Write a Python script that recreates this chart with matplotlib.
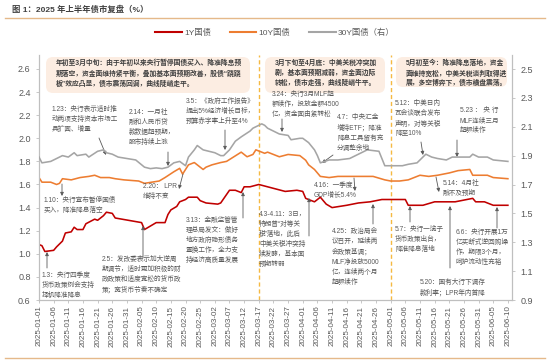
import numpy as np
import pandas as pd
import matplotlib.pyplot as plt
from matplotlib.lines import Line2D
from matplotlib.patches import FancyBboxPatch
from matplotlib.transforms import IdentityTransform

plt.rcParams['font.family'] = ['Liberation Sans', 'Noto Sans CJK SC']

# 1Y 国债 (left axis)
y1_dates = ['01-01', '01-02', '01-03', '01-06', '01-07', '01-09', '01-10', '01-12', '01-13',
            '01-14', '01-16', '01-17', '01-20', '01-21', '01-23', '01-24', '01-26', '01-27',
            '02-05', '02-06', '02-08', '02-10', '02-13', '02-14', '02-15', '02-17', '02-18',
            '02-20', '02-21', '02-24', '02-25', '02-27', '03-03', '03-04', '03-07', '03-09',
            '03-11', '03-12', '03-14', '03-17', '03-20', '03-23', '03-26', '03-30', '04-01',
            '04-02', '04-05', '04-07', '04-09', '04-11', '04-16', '04-20', '04-24', '04-28',
            '05-01', '05-06', '05-07', '05-12', '05-16', '05-23', '05-29', '05-30', '06-02',
            '06-05', '06-10']
y1_vals = [1.08, 1.07, 1.02, 1.03, 1.06, 1.11, 1.18, 1.19, 1.23,
           1.21, 1.21, 1.26, 1.30, 1.29, 1.33, 1.36, 1.35, 1.31,
           1.27, 1.21, 1.24, 1.27, 1.27, 1.34, 1.38, 1.41, 1.45,
           1.47, 1.49, 1.49, 1.46, 1.44, 1.43, 1.44, 1.55, 1.55,
           1.53, 1.58, 1.58, 1.60, 1.58, 1.56, 1.54, 1.55, 1.54,
           1.48, 1.45, 1.49, 1.43, 1.40, 1.42, 1.44, 1.45, 1.47,
           1.47, 1.47, 1.42, 1.42, 1.45, 1.45, 1.48, 1.45, 1.45,
           1.42, 1.42]

# 10Y 国债 (left axis)
y10_dates = ['01-01', '01-02', '01-05', '01-07', '01-08', '01-09', '01-12', '01-15', '01-18',
             '01-20', '01-22', '01-25', '01-27', '01-30', '02-04', '02-06', '02-11', '02-13',
             '02-16', '02-18', '02-19', '02-21', '02-23', '02-24', '02-26', '02-27', '03-01',
             '03-04', '03-06', '03-11', '03-13', '03-15', '03-16', '03-19', '03-20', '03-22',
             '03-24', '03-27', '03-31', '04-02', '04-03', '04-05', '04-07', '04-10', '04-13',
             '04-17', '04-20', '04-25', '04-29', '05-01', '05-04', '05-07', '05-11', '05-14',
             '05-17', '05-21', '05-24', '05-28', '05-29', '06-03', '06-05', '06-10']
y10_vals = [1.66, 1.62, 1.62, 1.60, 1.61, 1.65, 1.64, 1.66, 1.67,
            1.68, 1.66, 1.66, 1.65, 1.64, 1.63, 1.61, 1.63, 1.66,
            1.71, 1.74, 1.69, 1.77, 1.79, 1.77, 1.73, 1.75, 1.77,
            1.79, 1.80, 1.88, 1.84, 1.86, 1.90, 1.87, 1.88, 1.86,
            1.84, 1.86, 1.85, 1.81, 1.77, 1.73, 1.67, 1.66, 1.67,
            1.67, 1.67, 1.67, 1.64, 1.63, 1.63, 1.64, 1.68, 1.67,
            1.68, 1.70, 1.72, 1.73, 1.68, 1.68, 1.66, 1.65]

# 30Y 国债 (right axis)
y30_dates = ['01-01', '01-02', '01-05', '01-07', '01-09', '01-11', '01-13', '01-14', '01-17',
             '01-18', '01-21', '01-23', '01-24', '01-26', '01-28', '02-03', '02-06', '02-08',
             '02-10', '02-12', '02-14', '02-16', '02-18', '02-20', '02-21', '02-23', '02-24',
             '02-26', '03-02', '03-04', '03-05', '03-07', '03-09', '03-11', '03-14', '03-15',
             '03-16', '03-18', '03-19', '03-20', '03-22', '03-24', '03-27', '03-28', '03-31',
             '04-01', '04-03', '04-05', '04-06', '04-07', '04-10', '04-13', '04-17', '04-22',
             '04-23', '04-27', '04-28', '04-29', '05-01', '05-05', '05-07', '05-10', '05-11',
             '05-13', '05-15', '05-17', '05-20', '05-22', '05-24', '05-28', '05-29', '05-31',
             '06-03', '06-05', '06-10']
y30_vals = [1.89, 1.85, 1.86, 1.88, 1.90, 1.89, 1.92, 1.90, 1.91,
            1.89, 1.93, 1.94, 1.92, 1.91, 1.89, 1.87, 1.82, 1.81,
            1.815, 1.81, 1.82, 1.85, 1.86, 1.83, 1.89, 1.94, 1.97,
            1.94, 1.92, 1.90, 1.90, 1.94, 2.00, 2.03, 2.07, 2.09,
            2.10, 2.12, 2.11, 2.09, 2.07, 2.05, 2.04, 2.01, 2.02,
            2.02, 1.99, 1.94, 1.90, 1.85, 1.87, 1.87, 1.88, 1.93,
            1.94, 1.93, 1.88, 1.83, 1.83, 1.83, 1.84, 1.85, 1.87,
            1.91, 1.89, 1.88, 1.87, 1.89, 1.89, 1.89, 1.91, 1.89,
            1.89, 1.87, 1.86]

series_names = ['1Y国债', '10Y国债', '30Y国债（右）']
series_colors = ['#C00000', '#ED7D31', '#A5A5A5']
phase_dates = ['2025-03-17', '2025-05-01']

W, H = 553, 362
TXT = '#595959'


def to_dt(days):
    return pd.to_datetime(['2025-' + d for d in days])


def fx(x):
    return x / W


def fy(y):
    return 1 - y / H


fig = plt.figure(figsize=(W / 100, H / 100), dpi=100)
ax = fig.add_axes([fx(39), fy(300), fx(512) - fx(39), fy(55) - fy(300)])
ax2 = ax.twinx()

ax.plot(to_dt(y1_dates), y1_vals, color=series_colors[0], lw=1.15, zorder=3)
ax.plot(to_dt(y10_dates), y10_vals, color=series_colors[1], lw=1.15, zorder=3)
ax2.plot(to_dt(y30_dates), y30_vals, color=series_colors[2], lw=1.15, zorder=3)

start = pd.Timestamp('2025-01-01')
ax.set_xlim(start, start + pd.Timedelta(days=161.4))
ax.set_ylim(0.6, 2.721)
ax2.set_ylim(0.9, 2.597)
ax.set_yticks(np.arange(0.6, 2.61, 0.2))
ax2.set_yticks(np.arange(0.9, 2.51, 0.2))
ax.set_yticklabels([f'{v:.1f}' for v in np.arange(0.6, 2.61, 0.2)])
ax2.set_yticklabels([f'{v:.1f}' for v in np.arange(0.9, 2.51, 0.2)])

xt = pd.date_range('2025-01-01', '2025-06-10', freq='5D')
ax.set_xticks(xt)
ax.set_xticklabels([d.strftime('%Y-%m-%d') for d in xt], rotation=90)

for a in (ax, ax2):
    for s in a.spines.values():
        s.set_color('#BFBFBF')
        s.set_linewidth(0.8)
    a.spines['top'].set_visible(False)
    a.tick_params(colors='#BFBFBF', labelcolor=TXT, labelsize=6.5, length=2.5, width=0.6)
ax.tick_params(axis='x', labelsize=5.8, pad=1.5)

for d in phase_dates:
    ax.axvline(pd.Timestamp(d), color='#F5B942', lw=1.0, ls=(0, (3, 2)), zorder=2)

# title and frame lines
fig.text(fx(12), fy(10), '图 1：2025 年上半年债市复盘（%）', fontsize=6, fontweight='bold',
         color='#404040', va='center')
fig.add_artist(Line2D([fx(5), fx(545)], [fy(18), fy(18)], color='#E5B98A', lw=1.0))
fig.add_artist(Line2D([fx(5), fx(545)], [fy(358), fy(358)], color='#E5B98A', lw=1.0))

handles = [Line2D([], [], color=c, lw=1.5) for c in series_colors]
fig.legend(handles, series_names, loc='center', bbox_to_anchor=(fx(275), fy(33)), ncol=3,
           frameon=False, fontsize=6, handlelength=3.2, columnspacing=2.2, handletextpad=0.3,
           labelcolor=TXT)

# phase boxes
boxes = [
    (46, 57, 204, 36, '年初至3月中旬：由于年初以来央行暂停国债买入、降准降息预\n'
                      '期落空，资金面维持紧平衡，叠加基本面预期改善，股债“跷跷\n'
                      '板”效应凸显，债市震荡回调，曲线陡峭走平。'),
    (265, 57, 120, 36, '3月下旬至4月底：中美关税冲突加\n剧，基本面预期减弱，资金面边际\n转松，债市走强，曲线陡峭牛平。'),
    (396, 57, 111, 30, '5月初至今：降准降息落地，资金\n面维持宽松，中美关税谈判取得进\n展，多空博弈下，债市横盘震荡。'),
]
for bx, by, bw, bh, txt in boxes:
    p = FancyBboxPatch((bx, H - by - bh), bw, bh, boxstyle='round,pad=0,rounding_size=7',
                       transform=IdentityTransform(), facecolor='#FCEDE2', edgecolor='none',
                       zorder=1)
    fig.add_artist(p)
    fig.text(fx(bx + 10), fy(by + 3), txt, fontsize=4.9, fontweight='bold', color='#404040',
             va='top', linespacing=1.55)

# event notes: (x, y_top, text)
notes = [
    (52, 106, '1.23：央行表示适时推\n动两项支持资本市场工\n具扩面、增量'),
    (129, 109, '2.14：一月社\n融和人民币贷\n款数据超预期，\n股市持续上涨'),
    (186, 98, '3.5：《政府工作报告》\n提出5%经济增长目标，\n预算赤字率上升至4%'),
    (272, 91, '3.24：央行3月MLF超\n额续作，投放金额4500\n亿，资金面由紧转松'),
    (337, 114, '4.7：中央汇金\n增持ETF；降准\n降息工具留有充\n分调整余地'),
    (395, 100, '5.12：中美日内\n瓦会谈联合发布\n声明，对等关税\n降至10%'),
    (460, 107, '5.23 ： 央 行\nMLF连续三月\n超额续作'),
    (44, 197, '1.10：央行宣布暂停国债\n买入，降准降息落空'),
    (143, 183, '2.20： LPR\n维持不变'),
    (42, 272, '1.3：央行四季度\n货币政策例会支持\n择机降准降息'),
    (102, 256, '2.5：发改委表示加大逆周\n期调节，适时更加积极的财\n政政策和适度宽松的货币政\n策；宽货币节奏不确定'),
    (186, 217, '3.13：金融监管管\n理总局发文：做好\n地方政府隐形债务\n置换工作，全力支\n持经济高质量发展'),
    (259, 211, '4.3-4.11：3日，\n特朗普“对等关\n税”落地，此后\n中美关税冲突持\n续发酵，基本面\n预期转弱'),
    (314, 182, '4.16：一季度\nGDP增长5.4%'),
    (332, 228, '4.25：政治局会\n议召开，延续两\n会政策基调；\nMLF净投放5000\n亿，连续两个月\n超额续作'),
    (395, 226, '5.7：央行一揽子\n货币政策出台，\n降准降息落地'),
    (443, 180, '5.14：4月社\n融不及预期'),
    (420, 279, '5.20：国有大行下调存\n款利率；LPR年内首降'),
    (456, 229, '6.6：央行开展1万\n亿买断式逆回购操\n作，期限3个月，\n呵护流动性充裕'),
]
for nx, ny, txt in notes:
    fig.text(fx(nx), fy(ny), txt, fontsize=4.8, color=TXT, va='top', linespacing=1.6)

# arrows: (x_from, y_from, x_to, y_to) in pixels, head at the "to" end
arrows = [
    (99, 138, 106, 155), (168, 152, 168, 166), (225, 130, 225, 150), (282, 119, 282, 132),
    (333, 155, 322, 163), (421, 142, 423, 155), (457, 140, 457, 157), (62, 184, 62, 196),
    (183, 174, 179, 189), (47, 268, 47, 252), (143, 258, 143, 226), (243, 218, 243, 192),
    (309, 236, 309, 198), (354, 178, 355, 191), (373, 224, 373, 204), (410, 222, 410, 206),
    (436, 177, 439, 192), (450, 268, 450, 206), (497, 228, 497, 207),
]
for x0, y0, x1, y1 in arrows:
    ax.annotate('', xy=(x1, H - y1), xytext=(x0, H - y0), xycoords='figure pixels',
                textcoords='figure pixels',
                arrowprops=dict(arrowstyle='-|>', color='#595959', lw=0.6, mutation_scale=5,
                                shrinkA=0, shrinkB=0), annotation_clip=False, zorder=5)

fig.savefig('out.png', dpi=100, facecolor='white')
